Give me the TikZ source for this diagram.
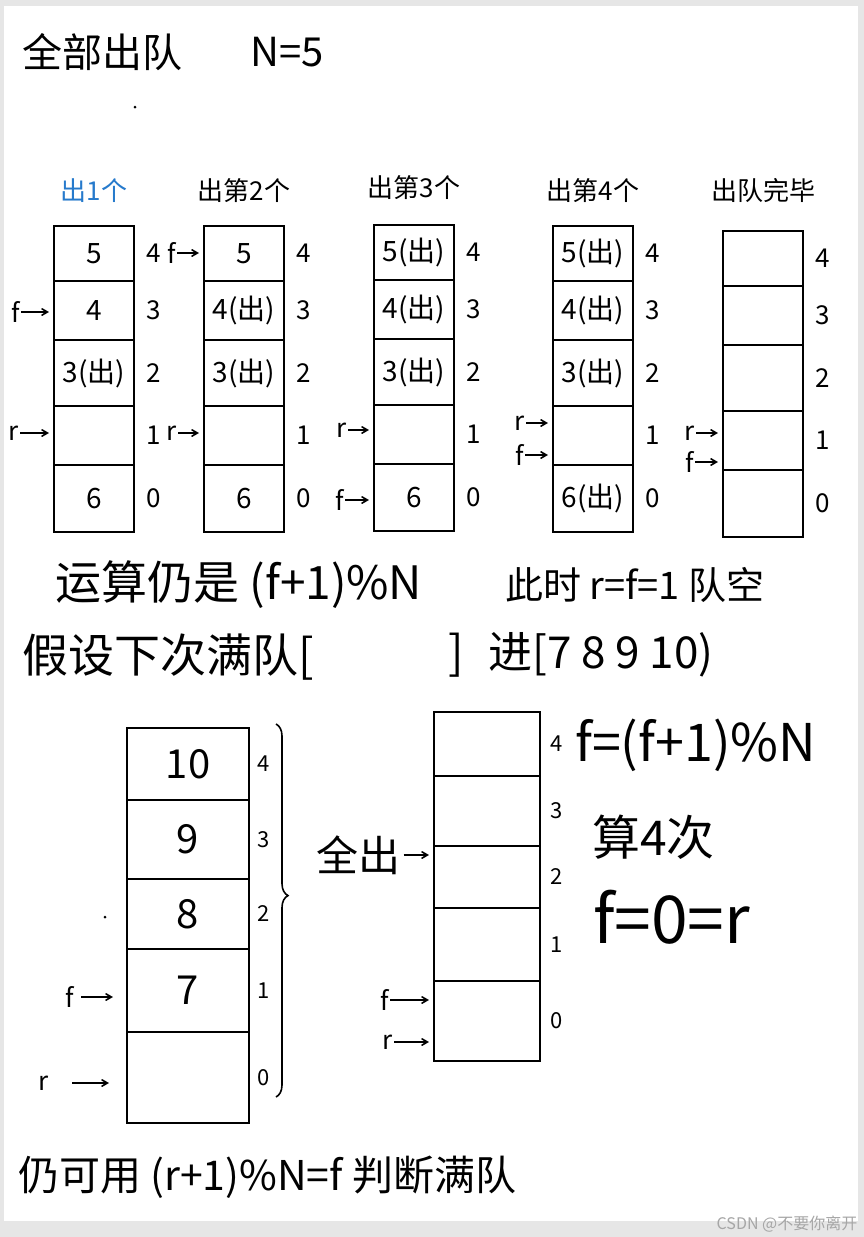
\documentclass[tikz,border=0pt]{standalone}
\usepackage{fontspec}
\setmainfont{Noto Sans CJK SC}
\usepackage{xcolor}
\usetikzlibrary{positioning, arrows, decorations.pathreplacing}
\definecolor{penblue}{RGB}{38,122,204}
\definecolor{pagegray}{RGB}{230,230,230}

\newcommand{\pen}[1]{\fontsize{#1}{#1}\selectfont}
\newcommand{\qcol}[8]{%
  \foreach \i/\t/\h/\v in {4/0/55/{#4},3/55/59/{#5},2/114/66/{#6},1/180/59/{#7},0/239/67/{#8}}{
    \node[cell, minimum height=\h, anchor=north west] (#1c\i) at (#2,#3+\t) {\v};
    \node[idx, right=10pt of #1c\i] (#1i\i) {\i};
  }
}

\begin{document}
\begin{tikzpicture}[x=1pt,y=-1pt]
    \tikzstyle{cell}=[draw, line width=1.6pt, minimum width=80, inner sep=0pt, outer sep=0pt, font=\pen{28}]
    \tikzstyle{idx}=[inner sep=2pt, font=\pen{26}]
    \tikzstyle{head}=[font=\pen{26}]
    \tikzstyle{ptr}=[inner sep=1pt, font=\pen{26}]
    \tikzstyle{parr}=[->, >=angle 60, line width=1.6pt, shorten >=5pt]
    \tikzstyle{note}=[anchor=west, inner sep=0pt]

    \useasboundingbox (0,0) rectangle (864,1237);
    \fill[pagegray] (0,0) rectangle (864,1237);
    \fill[white] (4,6) rectangle (858,1221);

    \node[note, font=\pen{40}] (ttl) at (22,52) {全部出队};
    \node[note, font=\pen{40}] (nval) at (250,52) {N=5};
    \fill (135,107) circle[radius=1.5pt];

    \qcol{q1}{54}{226}{5}{4}{3(出)}{}{6}
    \qcol{q2}{204}{226}{5}{4(出)}{3(出)}{}{6}
    \qcol{q3}{374}{225}{5(出)}{4(出)}{3(出)}{}{6}
    \qcol{q4}{553}{226}{5(出)}{4(出)}{3(出)}{}{6(出)}
    \qcol{q5}{723}{231}{}{}{}{}{}

    \node[head, text=penblue, above=20pt of q1c4] (h1) {出1个};
    \node[head, above=20pt of q2c4] (h2) {出第2个};
    \node[head, above=22pt of q3c4] (h3) {出第3个};
    \node[head, above=20pt of q4c4] (h4) {出第4个};
    \node[head, above=25pt of q5c4] (h5) {出队完毕};

    \node[ptr] (f1) at (16,312) {f};
    \node[ptr] (r1) at (14,433) {r};
    \node[ptr] (f2) at (172,253) {f};
    \node[ptr] (r2) at (172,433) {r};
    \node[ptr] (r3) at (342,430) {r};
    \node[ptr] (f3) at (340,500) {f};
    \node[ptr] (r4) at (520,423) {r};
    \node[ptr] (f4) at (520,455) {f};
    \node[ptr] (r5) at (690,433) {r};
    \node[ptr] (f5) at (690,462) {f};
    \draw[parr] (f1) -- (f1 -| q1c3.west);
    \draw[parr] (r1) -- (r1 -| q1c1.west);
    \draw[parr] (f2) -- (f2 -| q2c4.west);
    \draw[parr] (r2) -- (r2 -| q2c1.west);
    \draw[parr] (r3) -- (r3 -| q3c1.west);
    \draw[parr] (f3) -- (f3 -| q3c0.west);
    \draw[parr] (r4) -- (r4 -| q4c1.west);
    \draw[parr] (f4) -- (f4 -| q4c1.west);
    \draw[parr] (r5) -- (r5 -| q5c1.west);
    \draw[parr] (f5) -- (f5 -| q5c1.west);

    \node[note, font=\pen{46}] (l1a) at (55,585) {运算仍是 (f+1)\%N};
    \node[note, font=\pen{38}] (l1b) at (505,585) {此时 r=f=1 队空};
    \node[note, font=\pen{46}] (l2a) at (22,657) {假设下次满队[};
    \node[note, font=\pen{46}] (l2b) at (448,655) {]};
    \node[note, font=\pen{44}] (l2c) at (488,655) {进[7 8 9 10)};

    \foreach \i/\t/\h/\v in {4/0/72/10,3/72/79/9,2/151/70/8,1/221/83/7,0/304/91/{}}{
        \node[cell, minimum width=122, minimum height=\h, anchor=north west, font=\pen{40}] (L\i) at (127,728+\t) {\v};
        \node[idx, font=\pen{22}, right=6pt of L\i] (Li\i) {\i};
    }
    \foreach \i/\t/\h in {4/0/64,3/64/70,2/134/62,1/196/73,0/269/80}{
        \node[cell, minimum width=106, minimum height=\h, anchor=north west] (R\i) at (434,712+\t) {};
        \node[idx, font=\pen{22}, right=8pt of R\i] (Ri\i) {\i};
    }
    \fill (105,917) circle[radius=1.5pt];

    \node[ptr] (fL) at (70,997) {f};
    \node[ptr] (rL) at (44,1083) {r};
    \node[ptr] (fR) at (385,1000) {f};
    \node[ptr] (rR) at (388,1042) {r};
    \draw[parr, shorten <=6pt, shorten >=14pt] (fL) -- (fL -| L1.west);
    \draw[parr, shorten <=22pt, shorten >=18pt] (rL) -- (rL -| L0.west);
    \draw[parr] (fR) -- (fR -| R0.west);
    \draw[parr] (rR) -- (rR -| R0.west);

    \coordinate (bt) at (276,724);
    \coordinate (bb) at (276,1097);
    \draw[line width=1.6pt, decorate, decoration={brace, amplitude=12pt, aspect=0.46}] (bt) -- (bb);
    \node[font=\pen{42}] (qo) at (358,855) {全出};
    \draw[parr] (qo) -- (qo -| R2.west);

    \node[note, font=\pen{52}] (fml) at (575,745) {f=(f+1)\%N};
    \node[note, font=\pen{48}] (cnt) at (592,837) {算4次};
    \node[note, font=\pen{66}] (eq) at (593,917) {f=0=r};

    \node[note, font=\pen{41}] (bot) at (18,1177) {仍可用 (r+1)\%N=f 判断满队};
    \node[font=\pen{16}, text=gray!70] (wm) at (787,1224) {CSDN @不要你离开};
\end{tikzpicture}
\end{document}
